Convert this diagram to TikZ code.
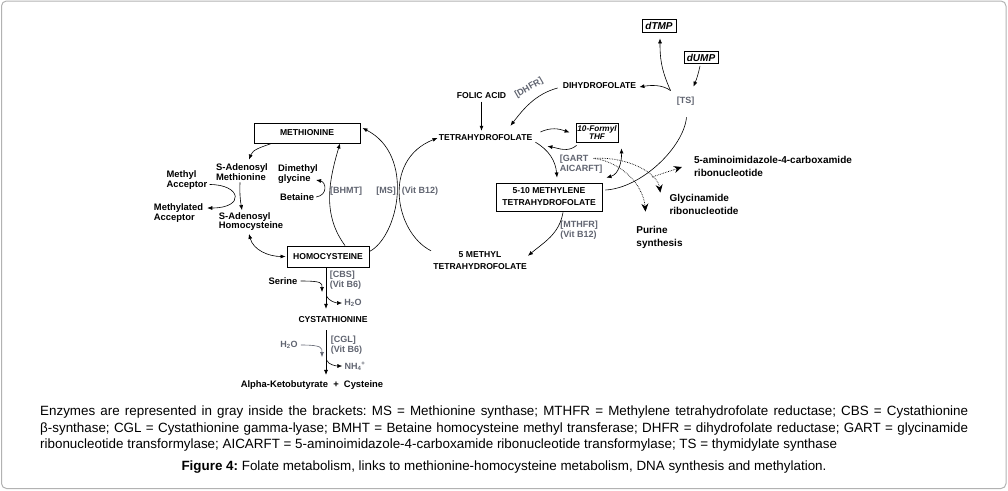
\documentclass[tikz,border=0pt]{standalone}
\usepackage{fontspec}
\setmainfont{Liberation Sans}
\usetikzlibrary{arrows.meta}
\definecolor{enzgray}{RGB}{96,100,112}
\frenchspacing
\tikzset{
  capl/.style={font=\bfseries\fontsize{8.6}{12}\selectfont, align=center},
  lbl/.style={font=\bfseries\fontsize{9.4}{9.6}\selectfont, align=left},
  rlbl/.style={font=\bfseries\fontsize{10}{13}\selectfont, align=left},
  enz/.style={font=\bfseries\fontsize{9}{10.5}\selectfont, text=enzgray, align=left},
  mbox/.style={capl, draw, line width=0.9pt},
  ibox/.style={draw, line width=0.8pt, align=center},
  arr/.style={-{Latex[length=5pt,width=4pt]}, line width=0.6pt},
  dblarr/.style={{Latex[length=5pt,width=4pt]}-{Latex[length=5pt,width=4pt]}, line width=0.6pt},
  dotarr/.style={-{Stealth[length=8pt,width=7pt]}, densely dotted, line width=0.7pt}
}
\begin{document}
\begin{tikzpicture}[x=1pt,y=-1pt]
\tikzstyle{every node}+=[inner sep=0pt]
\useasboundingbox (0,0) rectangle (1008,490);
\draw [black!30, line width=1pt, rounded corners=5pt] (1.5,1) rectangle (1006,488.5);

\node [mbox, minimum width=106pt, minimum height=20pt] (met) at (307,133) {METHIONINE};
\node [mbox, minimum width=82pt, minimum height=21pt] (hcy) at (328,256.5) {HOMOCYSTEINE};
\node [lbl] (sam) at (242,172) {S-Adenosyl\\Methionine};
\node [lbl] (sah) at (251,221.5) {S-Adenosyl\\Homocysteine};
\node [lbl] (macc) at (187,180) {Methyl\\Acceptor};
\node [lbl] (mdacc) at (178.5,213) {Methylated\\Acceptor};
\node [lbl] (dmg) at (298,174) {Dimethyl\\glycine};
\node [lbl] (bet) at (297,197) {Betaine};
\node [enz] (bhmt) at (346,191.5) {[BHMT]};
\node [enz] (ms) at (386,191.5) {[MS]};
\node [enz] (vb12) at (420,191.5) {(Vit B12)};
\node [capl] (thf) at (485.5,138) {TETRAHYDROFOLATE};
\node [capl] (fol) at (481.5,95.5) {FOLIC ACID};
\node [capl] (dhf) at (599.5,86) {DIHYDROFOLATE};
\node [enz, rotate=30] (dhfr) at (529,88) {[DHFR]};
\node [ibox, font=\bfseries\itshape\fontsize{8.2}{8.6}\selectfont, minimum width=42pt, minimum height=19pt] (fthf) at (597,132.5) {10-Formyl\\THF};
\node [enz] (gart) at (581,164) {[GART\\AICARFT]};
\node [mbox, minimum width=106pt, minimum height=28pt] (mthf) at (549,197) {5-10 METHYLENE\\TETRAHYDROFOLATE};
\node [enz] (mthfr) at (579,230) {[MTHFR]\\(Vit B12)};
\node [capl] (meth5) at (480,261) {5 METHYL\\TETRAHYDROFOLATE};
\node [rlbl] (pur) at (659.5,237) {Purine\\synthesis};
\node [rlbl] (gar) at (704,204) {Glycinamide\\ribonucleotide};
\node [rlbl] (aicar) at (773,166) {5-aminoimidazole-4-carboxamide\\ribonucleotide};
\node [enz] (ts) at (685.5,101) {[TS]};
\node [ibox, font=\bfseries\itshape\fontsize{10}{10}\selectfont, minimum width=34pt, minimum height=13pt] (dtmp) at (659,25.5) {dTMP};
\node [ibox, font=\bfseries\itshape\fontsize{10}{10}\selectfont, minimum width=34pt, minimum height=12pt] (dump) at (701,57.5) {dUMP};
\node [lbl] (ser) at (283,281) {Serine};
\node [enz] (cbs) at (345.5,280) {[CBS]\\(Vit B6)};
\node [enz] (wat1) at (353,303) {H\textsubscript{2}O};
\node [capl] (cyst) at (333,320) {CYSTATHIONINE};
\node [enz] (cgl) at (346.5,345) {[CGL]\\(Vit B6)};
\node [enz] (wat2) at (289,345) {H\textsubscript{2}O};
\node [enz] (nh4) at (355,366) {NH\textsubscript{4}\textsuperscript{+}};
\node [lbl] (prod) at (312,385.5) {Alpha-Ketobutyrate ~+~ Cysteine};

\draw [arr] ([xshift=18pt]met.south west) to[out=-160,in=70] ([xshift=7pt,yshift=4pt]sam.north);
\draw [arr] ([xshift=-2pt,yshift=-2pt]sam.south) to[bend right=6] ([xshift=-9pt,yshift=2pt]sah.north);
\draw [arr] ([xshift=2pt,yshift=-4.5pt]macc.east) .. controls +(32,0) and +(38,0) .. ([xshift=4pt,yshift=5pt]mdacc.east);
\draw [dblarr] ([xshift=-2pt,yshift=-3pt]sah.south) to[out=-75,in=180] ([xshift=-1pt]hcy.west);
\draw [arr] ([xshift=2pt]bet.east) .. controls +(12,-2) and +(10,2) .. ([xshift=-2pt,yshift=-6pt]dmg.east);
\draw [arr] ([xshift=17pt]hcy.north) .. controls +(-22,-30) and +(-12,40) .. ([xshift=33pt]met.south);
\draw [arr] ([yshift=5pt]hcy.east) .. controls +(29,-15) and +(53,27) .. ([xshift=2pt,yshift=5pt]met.east);
\draw [arr] ([xshift=-2pt,yshift=1pt]meth5.north west) .. controls +(-36,-18) and +(-56,22) .. ([xshift=-1pt]thf.west);
\draw [arr] ([yshift=-3pt]fol.south) -- ([yshift=4pt]fol.south |- thf.north);
\draw [arr] ([xshift=-5pt,yshift=-2pt]dhf.west) .. controls +(-22,6) and +(13,-17) .. ([xshift=25pt,yshift=9pt]thf.north);
\coordinate (tsj) at ([shift={(-6pt,6pt)}]ts.north west);
\draw [arr] (tsj) .. controls +(-8,-6) and +(12,-2) .. ([xshift=3pt,yshift=-1pt]dhf.east);
\draw [arr] (tsj) .. controls +(-10,-22) and +(0,18) .. ([xshift=1pt,yshift=-6pt]dtmp.south);
\draw [arr] ([xshift=-1pt,yshift=-2pt]dump.south) to[bend left=5] ([shift={(8pt,10pt)}]ts.north);
\draw [line width=0.6pt] ([xshift=3pt,yshift=7pt]mthf.east) .. controls +(36,-2) and +(-3,30) .. ([xshift=1pt,yshift=-12pt]ts.south);
\draw [arr] ([shift={(8pt,6pt)}]thf.east) to[out=25,in=160] ([xshift=-6pt]fthf.west);
\draw [arr] ([shift={(1pt,-3pt)}]fthf.south west) to[out=-140,in=-10] ([shift={(15pt,-5pt)}]thf.south east);
\draw [arr] ([shift={(3pt,-1pt)}]thf.south east) to[out=-30,in=95] ([shift={(8pt,5pt)}]mthf.north);
\draw [dblarr] ([shift={(4pt,5pt)}]mthf.north east) to[out=15,in=-88] ([shift={(3pt,-6pt)}]fthf.south east);
\draw [arr] ([shift={(14pt,-1pt)}]mthf.south) to[out=-100,in=40] ([xshift=1pt,yshift=-4pt]meth5.north east);

\coordinate (gartout) at ([shift={(34pt,-4pt)}]gart.north west);
\draw [dotarr] (gartout) .. controls +(34,-2) and +(-3,-20) .. ([shift={(-9pt,1pt)}]gar.north west) coordinate[pos=0.72] (garbr);
\draw [dotarr] (gartout) .. controls +(30,4) and +(-2,-25) .. ([shift={(-14pt,14pt)}]pur.north);
\draw [dotarr] (garbr) -- ([xshift=-12pt,yshift=-1pt]aicar.west);

\draw [arr] ([xshift=-2pt]hcy.south) -- ([xshift=-2pt,yshift=8pt]hcy.south |- cyst.north);
\coordinate (serin) at (322,292);
\draw [arr] ([xshift=3pt]ser.east) .. controls +(22,0) and +(0,-9) .. (serin);
\coordinate (watj) at (326.5,296);
\draw [arr] (watj) .. controls +(2,5) and +(-6,0) .. ([xshift=-2pt]wat1.west);
\draw [arr] ([xshift=-7pt,yshift=-7pt]cyst.south) -- ([xshift=-7pt,yshift=6pt]cyst.south |- prod.north);
\coordinate (watin) at (322,357);
\draw [arr, enzgray] ([xshift=3pt]wat2.east) .. controls +(22,0) and +(0,-9) .. (watin);
\coordinate (nhj) at (326.5,360);
\draw [arr] (nhj) .. controls +(2,5) and +(-6,0) .. ([xshift=-2pt]nh4.west);

\node [anchor=north west, text width=928pt, align=justify, font=\fontsize{13.4}{16.5}\selectfont] (notes) at (40,406) {Enzymes are represented in gray inside the brackets: MS = Methionine synthase; MTHFR = Methylene tetrahydrofolate reductase; CBS = Cystathionine\linebreak β-synthase; CGL = Cystathionine gamma-lyase; BMHT = Betaine homocysteine methyl transferase; DHFR = dihydrofolate reductase; GART = glycinamide\linebreak ribonucleotide transformylase; AICARFT = 5-aminoimidazole-4-carboxamide ribonucleotide transformylase; TS = thymidylate synthase};
\node [font=\fontsize{13.4}{16}\selectfont] (figcap) at (504,467) {\textbf{Figure 4:} Folate metabolism, links to methionine-homocysteine metabolism, DNA synthesis and methylation.};
\end{tikzpicture}
\end{document}
